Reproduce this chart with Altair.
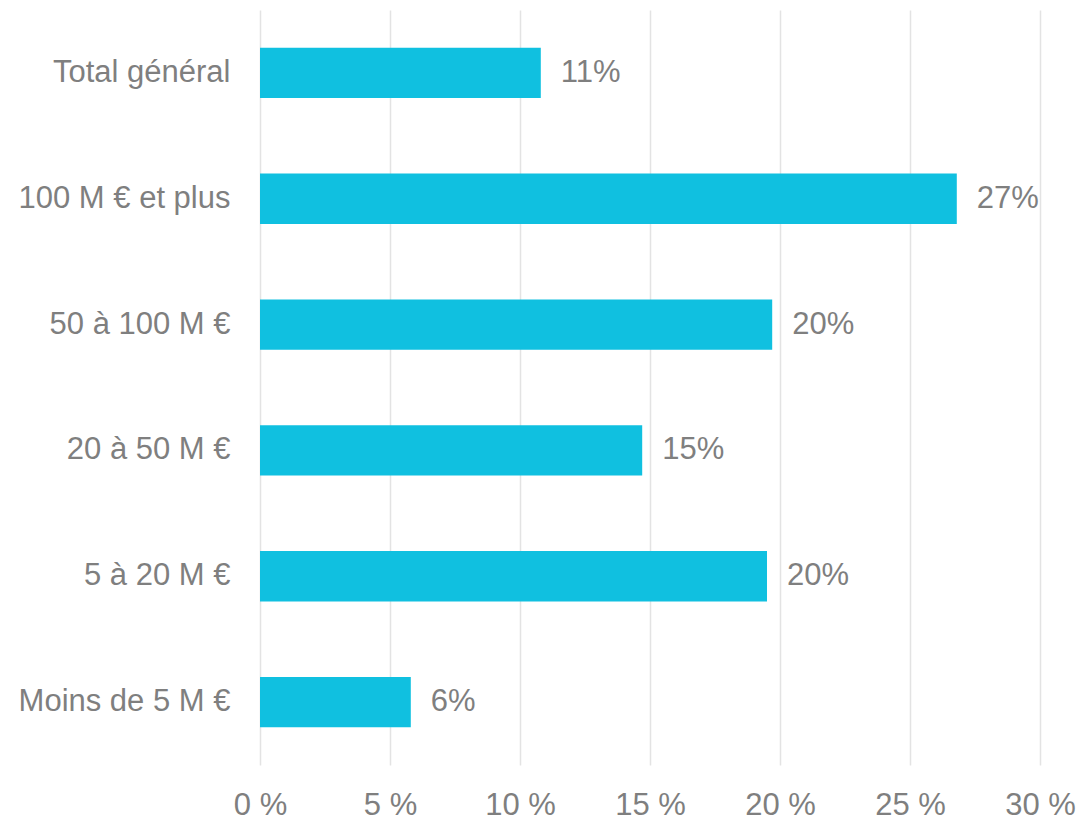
import altair as alt
import pandas as pd

categories = ["Total général", "100 M € et plus", "50 à 100 M €", "20 à 50 M €", "5 à 20 M €", "Moins de 5 M €"]
values = [10.8, 26.8, 19.7, 14.7, 19.5, 5.8]
x_ticks = [0, 5, 10, 15, 20, 25, 30]

df = pd.DataFrame({"cat": categories, "val": values})

FONT = "Liberation Sans"
GRAY = "#7f7f7f"
FS = 31

base = alt.Chart(df).encode(
    y=alt.Y("cat:N", sort=categories, title=None,
            scale=alt.Scale(paddingInner=0.6, paddingOuter=0.3),
            axis=alt.Axis(domain=False, ticks=False, labelPadding=30,
                          labelFontSize=FS, labelColor=GRAY, labelFont=FONT,
                          labelLimit=300, grid=False)),
)

bars = base.mark_bar(color="#10C0E0").encode(
    x=alt.X("val:Q", title=None,
            scale=alt.Scale(domain=[0, 30], nice=False),
            axis=alt.Axis(values=x_ticks, domain=False, ticks=False,
                          labelExpr="datum.value + ' %'", labelPadding=25,
                          labelFontSize=FS, labelColor=GRAY, labelFont=FONT,
                          grid=True, gridColor="#e3e3e3", gridWidth=1.5,
                          labelFlush=False)),
)

text = base.mark_text(align="left", baseline="middle", dx=20, fontSize=FS,
                      color=GRAY, font=FONT).transform_calculate(
    lbl="format(datum.val, '.0f') + '%'"
).encode(x="val:Q", text="lbl:N")

chart = (bars + text).properties(
    width=780, height=755,
    background="white",
    autosize=alt.AutoSizeParams(type="none"),
    padding={"left": 252, "top": 2, "right": 36, "bottom": 58},
).configure_view(strokeWidth=0, stroke="transparent")

chart.save("out.html", embed_options={"renderer": "svg", "actions": False})
